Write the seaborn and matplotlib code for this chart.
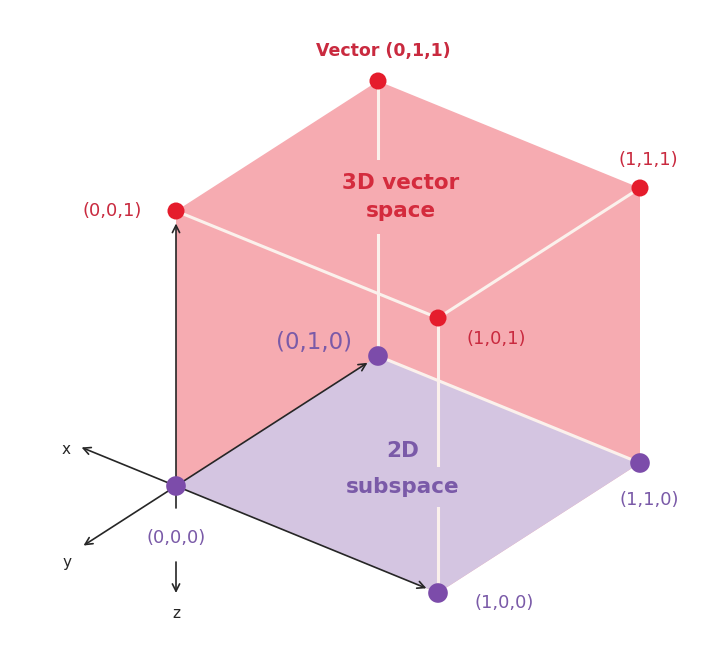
import numpy as np
import pandas as pd
import matplotlib
matplotlib.use("Agg")
import matplotlib.pyplot as plt
import seaborn as sns

# cube corners (unit cube), their labels and which group they belong to
corner_x = [0, 1, 0, 1, 0, 1, 0, 1]
corner_y = [0, 0, 1, 1, 0, 0, 1, 1]
corner_z = [0, 0, 0, 0, 1, 1, 1, 1]
corner_labels = ["(0,0,0)", "(1,0,0)", "(0,1,0)", "(1,1,0)",
                 "(0,0,1)", "(1,0,1)", "Vector (0,1,1)", "(1,1,1)"]
corner_group = ["2D subspace"] * 4 + ["3D vector space"] * 4

# faces / edges given by corner indices
hull_idx = [0, 4, 6, 7, 3, 1]          # outline of the whole cube
floor_idx = [0, 1, 3, 2]               # z = 0 plane
white_edges = [(4, 5), (5, 7), (5, 1), (6, 2), (2, 3)]
black_edges = [1, 2, 4]                # arrows from the origin

# layout: isometric projection onto pixel space
ORIGIN = np.array([176.0, 486.0])
E_X = np.array([262.0, 107.0])
E_Y = np.array([202.0, -130.0])
E_Z = np.array([0.0, -275.0])

PINK = "#f6abb1"
LILAC = "#d4c5e1"
RED_DOT = "#e51c2c"
PURPLE_DOT = "#7c4caa"
RED_TXT = "#c92a3f"
PURPLE_TXT = "#7a5aa8"
EDGE_WHITE = "#fbf1ec"
INK = "#262626"

# label offsets (pixels) relative to each corner
label_dx = [0, 66, -64, 9, -64, 58, 5, 8]
label_dy = [52, 10, -14, 37, 0, 21, -30, -28]
label_size = [13, 13, 16.5, 13, 13, 13, 12.5, 13]


def project(x, y, z):
    return ORIGIN + x * E_X + y * E_Y + z * E_Z


pts = np.array([project(a, b, c) for a, b, c in zip(corner_x, corner_y, corner_z)])
df = pd.DataFrame({"px": pts[:, 0], "py": pts[:, 1],
                   "label": corner_labels, "group": corner_group})

sns.set_theme(style="white")
plt.rcParams["font.family"] = ["DejaVu Sans"]

fig = plt.figure(figsize=(7.2, 6.55), dpi=100)
ax = fig.add_axes([0, 0, 1, 1])
ax.set_xlim(0, 720)
ax.set_ylim(655, 0)
ax.axis("off")

# faces
ax.fill(pts[hull_idx, 0], pts[hull_idx, 1], color=PINK, lw=0, zorder=1)
ax.fill(pts[floor_idx, 0], pts[floor_idx, 1], color=LILAC, lw=0, zorder=2)

# inner white edges
for i, j in white_edges:
    ax.plot(pts[[i, j], 0], pts[[i, j], 1], color=EDGE_WHITE, lw=2.2,
            solid_capstyle="butt", zorder=3)

# black arrows from the origin to the basis corners
arrow_kw = dict(arrowstyle="->", color=INK, lw=1.2, mutation_scale=13)
for k in black_edges:
    ax.annotate("", xy=pts[k], xytext=pts[0],
                arrowprops=dict(**arrow_kw, shrinkA=0, shrinkB=9), zorder=4)
# short tail of the vertical axis below the origin
tail = project(0, 0, -0.08)
ax.plot([pts[0, 0], tail[0]], [pts[0, 1], tail[1]], color=INK, lw=1.2, zorder=4)

# axis direction indicator
ux = E_X / np.linalg.norm(E_X)
uy = E_Y / np.linalg.norm(E_Y)
x_tip = ORIGIN - 102 * ux
y_tip = ORIGIN - 110 * uy
for tip in (x_tip, y_tip):
    ax.annotate("", xy=tip, xytext=ORIGIN,
                arrowprops=dict(**arrow_kw, shrinkA=0, shrinkB=0), zorder=4)
ax.annotate("", xy=ORIGIN + [0, 107], xytext=ORIGIN + [0, 76],
            arrowprops=dict(**arrow_kw, shrinkA=0, shrinkB=0), zorder=4)
ax.text(x_tip[0] - 16, x_tip[1] + 2, "x", color=INK, fontsize=11,
        ha="center", va="center")
ax.text(y_tip[0] - 17, y_tip[1] + 17, "y", color=INK, fontsize=11,
        ha="center", va="center")
ax.text(ORIGIN[0], ORIGIN[1] + 128, "z", color=INK, fontsize=11,
        ha="center", va="center")

# corner dots
sns.scatterplot(data=df, x="px", y="py", hue="group",
                palette={"2D subspace": PURPLE_DOT, "3D vector space": RED_DOT},
                size="group", sizes={"2D subspace": 200, "3D vector space": 150},
                linewidth=0, legend=False, ax=ax, zorder=6)

# corner labels
for i, row in df.iterrows():
    col = PURPLE_TXT if row["group"] == "2D subspace" else RED_TXT
    weight = "bold" if i == 6 else "normal"
    ax.text(row["px"] + label_dx[i], row["py"] + label_dy[i], row["label"],
            color=col, fontsize=label_size[i], fontweight=weight,
            ha="center", va="center", zorder=7)

# region titles (with a background patch that interrupts the white edges)
ax.text(401, 197, "3D vector\nspace", color="#d42b3d", fontsize=15.5,
        fontweight="bold", ha="center", va="center", linespacing=1.45,
        bbox=dict(boxstyle="square,pad=0.6", fc=PINK, ec="none"), zorder=5)
ax.text(403, 451, "2D", color=PURPLE_TXT, fontsize=15.5,
        fontweight="bold", ha="center", va="center", zorder=5)
ax.text(403, 487, "subspace", color=PURPLE_TXT, fontsize=15.5,
        fontweight="bold", ha="center", va="center",
        bbox=dict(boxstyle="square,pad=0.45", fc=LILAC, ec="none"), zorder=5)

fig.savefig("out.png", dpi=100, facecolor="white")
